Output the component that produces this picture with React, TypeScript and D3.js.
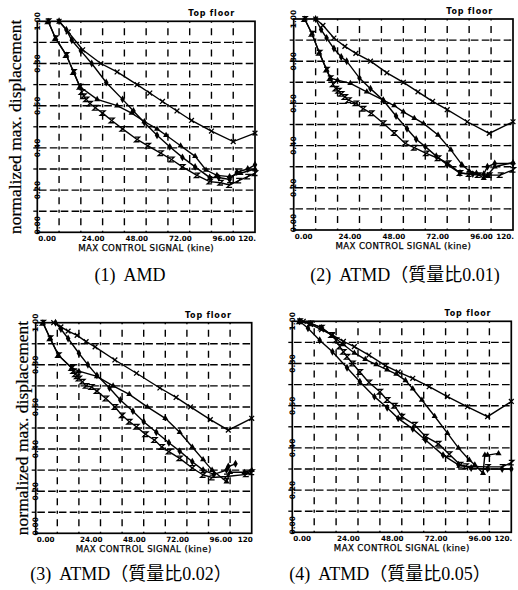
import React, { useEffect, useRef } from 'react';
import * as d3 from 'd3';

// normalized max. displacement (top floor) vs max control signal (kine)
// series marker: cross = x, diamond = filled diamond, triangle, z = bow-tie/Z

// (1) AMD
const amdCross = [[12, 1.0], [17, 0.95], [25, 0.865], [35, 0.8], [44, 0.76], [55, 0.7], [62, 0.66], [69, 0.62], [77, 0.575], [85, 0.53], [96, 0.48], [108, 0.43], [120, 0.47]];
const amdDiamond = [[12, 1.0], [16, 0.96], [19, 0.91], [24, 0.86], [30, 0.8], [38, 0.71], [47, 0.63], [53, 0.575], [59, 0.52], [66, 0.46], [73, 0.405], [80, 0.355], [87, 0.31], [95, 0.26], [100, 0.26], [106, 0.25], [110, 0.285], [116, 0.3], [120, 0.32]];
const amdTriangle = [[6, 1.0], [10, 0.92], [16, 0.84], [20, 0.76], [23.5, 0.69], [33, 0.63], [44, 0.6], [52, 0.565], [59, 0.525], [66, 0.49], [71, 0.46], [79, 0.41], [87, 0.36], [93, 0.295], [99, 0.27], [106, 0.264], [112, 0.28], [120, 0.3]];
const amdZ = [[6, 1.0], [10, 0.92], [16, 0.84], [20, 0.76], [23.5, 0.69], [24.5, 0.665], [25.5, 0.645], [27, 0.63], [29, 0.61], [32, 0.59], [36, 0.565], [41, 0.53], [47, 0.49], [55, 0.44], [61, 0.41], [68, 0.375], [74, 0.345], [80, 0.31], [88, 0.27], [95, 0.24], [101, 0.235], [106, 0.224], [111, 0.245], [116, 0.264], [120, 0.28]];

// (2) ATMD mass ratio 0.01
const atmd1Cross = [[12, 1.0], [16, 0.97], [22, 0.91], [28, 0.87], [34, 0.837], [42, 0.8], [51, 0.745], [60, 0.7], [68, 0.655], [76, 0.61], [84, 0.57], [95, 0.513], [107, 0.458], [120, 0.513]];
const atmd1Diamond = [[12, 1.0], [15, 0.95], [18, 0.91], [22, 0.86], [26, 0.82], [29, 0.8], [36, 0.72], [42, 0.67], [49, 0.615], [56, 0.54], [62, 0.48], [67, 0.43], [72, 0.395], [78, 0.35], [84, 0.31], [91, 0.27], [98, 0.265], [104, 0.265], [106, 0.3], [110, 0.315], [120, 0.315]];
const atmd1Triangle = [[6, 1.0], [10, 0.93], [14, 0.84], [18, 0.76], [20, 0.72], [24, 0.71], [31, 0.695], [40, 0.655], [49, 0.615], [55, 0.59], [60, 0.56], [66, 0.53], [71, 0.505], [79, 0.45], [86, 0.38], [92, 0.31], [96, 0.28], [100, 0.27], [104, 0.245], [106, 0.26], [110, 0.3], [120, 0.32]];
const atmd1Z = [[6, 1.0], [10, 0.93], [14, 0.84], [18, 0.76], [20, 0.72], [21.5, 0.69], [23, 0.67], [24.5, 0.66], [26, 0.645], [28, 0.63], [30, 0.615], [34, 0.6], [38, 0.575], [42.5, 0.553], [49, 0.506], [55, 0.46], [61, 0.41], [66, 0.39], [72.5, 0.363], [79, 0.34], [84.5, 0.316], [91, 0.27], [96, 0.265], [101, 0.26], [107, 0.26], [113, 0.26], [120, 0.285]];

// (3) ATMD mass ratio 0.02
const atmd2Cross = [[10, 1.0], [14, 0.98], [18, 0.96], [23, 0.94], [28, 0.91], [33, 0.885], [44, 0.823], [56, 0.76], [69, 0.69], [78, 0.645], [86, 0.6], [97, 0.54], [107, 0.49], [120, 0.546]];
const atmd2Diamond = [[11, 1.0], [14, 0.97], [18, 0.925], [24, 0.855], [29, 0.8], [34, 0.75], [41, 0.69], [47, 0.633], [54, 0.58], [60, 0.53], [67, 0.48], [74, 0.43], [80, 0.39], [87, 0.34], [93, 0.3], [99, 0.28], [106, 0.3], [107, 0.317], [111, 0.33]];
const atmd2Triangle = [[4, 1.0], [8, 0.926], [12.6, 0.846], [20, 0.785], [24, 0.77], [34, 0.745], [43, 0.7], [52, 0.66], [62, 0.6], [72, 0.546], [80, 0.48], [87, 0.41], [93, 0.35], [98, 0.3], [106, 0.245], [108, 0.29], [116, 0.29], [120, 0.3]];
const atmd2Z = [[4, 1.0], [8, 0.926], [12.6, 0.846], [20, 0.785], [21, 0.77], [22, 0.755], [23, 0.745], [24, 0.735], [26, 0.72], [28, 0.7], [31, 0.695], [34, 0.675], [39, 0.64], [44, 0.6], [48, 0.56], [52, 0.53], [56, 0.506], [61, 0.47], [66, 0.443], [70, 0.41], [74, 0.388], [80, 0.356], [87, 0.31], [93, 0.277], [98, 0.265], [106, 0.27], [117, 0.28], [120, 0.29]];

// (4) ATMD mass ratio 0.05
const atmd5Cross = [[6, 1.0], [10, 0.985], [16, 0.96], [22, 0.935], [28, 0.905], [34, 0.88], [42, 0.84], [51, 0.79], [58, 0.76], [66, 0.73], [75, 0.69], [85, 0.643], [96, 0.595], [107, 0.548], [120, 0.62]];
const atmd5Diamond = [[4, 1.0], [8.6, 0.967], [15, 0.91], [22, 0.856], [30, 0.78], [37, 0.714], [45, 0.643], [52, 0.59], [58, 0.54], [66, 0.49], [73, 0.437], [82.6, 0.366], [91, 0.32], [98, 0.305], [107, 0.3], [115, 0.3], [120, 0.3]];
const atmd5Triangle = [[4, 1.0], [10, 0.99], [16, 0.97], [22, 0.93], [28, 0.89], [34, 0.85], [40, 0.82], [46, 0.795], [52, 0.77], [57, 0.75], [62, 0.72], [66, 0.68], [71, 0.627], [78, 0.55], [85, 0.47], [91, 0.4], [97, 0.343], [100, 0.32], [104.5, 0.28], [105.5, 0.366], [107, 0.366], [113, 0.374]];
const atmd5Z = [[4, 1.0], [10, 0.99], [16, 0.97], [21.5, 0.935], [24, 0.91], [26, 0.88], [28, 0.855], [30, 0.832], [33, 0.8], [37, 0.76], [42, 0.71], [48, 0.666], [52, 0.627], [56, 0.6], [60, 0.548], [67, 0.51], [73, 0.453], [80, 0.42], [86, 0.37], [92, 0.32], [95, 0.313], [107, 0.31], [115, 0.31], [120, 0.33]];

const xTicks = [0, 24, 48, 72, 96, 120];
const xTickLabels = ['0.00', '24.00', '48.00', '72.00', '96.00', '120.'];
const yTicks = [0, 0.2, 0.4, 0.6, 0.8, 1.0];
const yTickLabels = ['0.00', '0.20', '0.40', '0.60', '0.80', '1.00'];
const markerKinds = ['cross', 'diamond', 'triangle', 'z'];

const panels = [
    { caption: '(1)  AMD', box: [37.3, 21.3, 255, 232.3], capX: 130, capY: 281, yTitleX: 21, lastX: '120.', series: [amdCross, amdDiamond, amdTriangle, amdZ] },
    { caption: '(2)  ATMD（質量比0.01)', box: [293.7, 19, 513, 230], capX: 405, capY: 281, yTitleX: null, lastX: '120.', series: [atmd1Cross, atmd1Diamond, atmd1Triangle, atmd1Z] },
    { caption: '(3)  ATMD（質量比0.02）', box: [35.7, 322.7, 251.7, 533.3], capX: 131, capY: 580, yTitleX: 28, lastX: '120', series: [atmd2Cross, atmd2Diamond, atmd2Triangle, atmd2Z] },
    { caption: '(4)  ATMD（質量比0.05）', box: [292.3, 321.3, 511.3, 532.3], capX: 390, capY: 580, yTitleX: null, lastX: '120.', series: [atmd5Cross, atmd5Diamond, atmd5Triangle, atmd5Z] },
];

const plotFont = "'DejaVu Sans', sans-serif";

function drawMarker(g, kind, x, y) {
    if (kind === 'cross') {
        g.append('path').attr('d', `M${x - 2.4},${y - 2.4}L${x + 2.4},${y + 2.4}M${x - 2.4},${y + 2.4}L${x + 2.4},${y - 2.4}`)
            .attr('stroke', '#000').attr('stroke-width', 1.3);
    } else if (kind === 'z') {
        g.append('path').attr('d', `M${x - 2.5},${y - 2.3}H${x + 2.5}L${x - 2.5},${y + 2.3}H${x + 2.5}`)
            .attr('fill', 'none').attr('stroke', '#000').attr('stroke-width', 1.3);
    } else {
        const sym = kind === 'diamond' ? d3.symbolDiamond : d3.symbolTriangle;
        g.append('path').attr('d', d3.symbol(sym, kind === 'diamond' ? 18 : 16)())
            .attr('transform', `translate(${x},${y})`)
            .attr('fill', '#000');
    }
}

function drawPanel(svg, p) {
    const [x0, y0, x1, y1] = p.box;
    const x = d3.scaleLinear().domain([0, 120]).range([x0, x1]);
    const y = d3.scaleLinear().domain([0, 1]).range([y1, y0]);
    const g = svg.append('g');

    // dashed grid
    const cellX = x(12) - x(0);
    const cellY = y(0) - y(0.1);
    const hPer = cellX / 2;
    for (let i = 1; i < 10; i++) {
        const v = i / 10;
        g.append('line')
            .attr('x1', x0).attr('x2', x1).attr('y1', y(v)).attr('y2', y(v))
            .attr('stroke', '#000').attr('stroke-width', 1.4)
            .attr('stroke-dasharray', `${hPer * 0.7},${hPer * 0.3}`)
            .attr('stroke-dashoffset', -hPer * 0.15);
        // little tick outside the left axis
        g.append('line').attr('x1', x0 - 4).attr('x2', x0).attr('y1', y(v)).attr('y2', y(v))
            .attr('stroke', '#000').attr('stroke-width', 1.3);
    }
    const gap = (cellY - 10) / 2;
    for (let i = 1; i < 10; i++) {
        const v = i * 12;
        g.append('line')
            .attr('x1', x(v)).attr('x2', x(v)).attr('y1', y0).attr('y2', y1)
            .attr('stroke', '#000').attr('stroke-width', 1.4)
            .attr('stroke-dasharray', `3,${gap},7,${gap}`)
            .attr('stroke-dashoffset', 1.5);
    }

    // frame
    g.append('rect').attr('x', x0).attr('y', y0).attr('width', x1 - x0).attr('height', y1 - y0)
        .attr('fill', 'none').attr('stroke', '#000').attr('stroke-width', 1.7);

    // series
    const line = d3.line().x((d) => x(d[0])).y((d) => y(d[1]));
    p.series.forEach((s, i) => {
        g.append('path').attr('d', line(s)).attr('fill', 'none')
            .attr('stroke', '#000').attr('stroke-width', 1.4);
        s.forEach((d) => drawMarker(g, markerKinds[i], x(d[0]), y(d[1])));
    });

    // x tick labels, left aligned to the tick like the plotter did
    xTicks.forEach((t, i) => {
        const last = i === xTicks.length - 1;
        g.append('text')
            .attr('x', last ? x1 + 1 : x(t) + 1)
            .attr('y', y1 + 9)
            .attr('text-anchor', last ? 'end' : 'start')
            .attr('font-family', plotFont).attr('font-weight', 'bold').attr('font-size', 7.2)
            .text(last ? p.lastX : xTickLabels[i]);
    });
    g.append('text')
        .attr('x', (x0 + x1) / 2).attr('y', y1 + 18.5)
        .attr('text-anchor', 'middle')
        .attr('font-family', plotFont).attr('font-size', 8.6).attr('letter-spacing', 0.4)
        .attr('stroke', '#000').attr('stroke-width', 0.25)
        .text('MAX CONTROL SIGNAL (kine)');

    // y tick labels, rotated, sitting on the axis
    yTicks.forEach((t, i) => {
        const yy = t === 0 ? y(t) - 7 : y(t);
        g.append('text')
            .attr('transform', `translate(${x0 + 2.5},${yy})rotate(-90)`)
            .attr('text-anchor', 'middle')
            .attr('font-family', plotFont).attr('font-weight', 'bold').attr('font-size', 7.5)
            .text(yTickLabels[i]);
    });

    g.append('text')
        .attr('x', x1 - 20).attr('y', y0 - 5)
        .attr('text-anchor', 'end')
        .attr('font-family', plotFont).attr('font-weight', 'bold').attr('font-size', 8).attr('letter-spacing', 0.8)
        .text('Top floor');

    if (p.yTitleX !== null) {
        g.append('text')
            .attr('transform', `translate(${p.yTitleX},${(y0 + y1) / 2})rotate(-90)`)
            .attr('text-anchor', 'middle')
            .attr('font-family', "'Liberation Serif', serif").attr('font-size', 17.5)
            .attr('stroke', '#000').attr('stroke-width', 0.2)
            .text('normalized max. displacement');
    }

    g.append('text')
        .attr('x', p.capX).attr('y', p.capY)
        .attr('text-anchor', 'middle')
        .attr('font-family', "'Liberation Serif', 'Noto Sans CJK TC', serif").attr('font-size', 18)
        .style('white-space', 'pre')
        .text(p.caption);
}

export default function App() {
    const ref = useRef(null);

    useEffect(() => {
        const svg = d3.select(ref.current);
        svg.selectAll('*').remove();
        svg.append('rect').attr('width', 518).attr('height', 590).attr('fill', '#fff');
        panels.forEach((p) => drawPanel(svg, p));
    }, []);

    return (
        <svg ref={ref} width={518} height={590}
            style={{ position: 'absolute', left: 0, top: 0, background: '#fff' }} />
    );
}
